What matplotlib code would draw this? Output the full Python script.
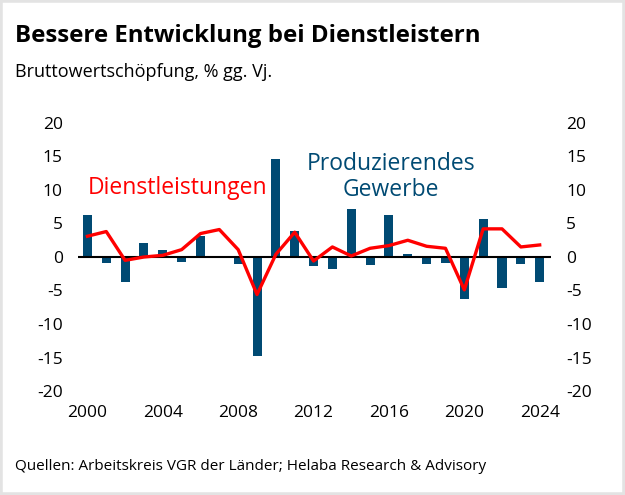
import matplotlib.pyplot as plt
from matplotlib.patches import Rectangle

plt.rcParams['font.family'] = ['Open Sans', 'DejaVu Sans']
plt.rcParams['axes.unicode_minus'] = False

years = list(range(2000, 2025))
# Produzierendes Gewerbe (bars)
produzierendes = [6.2, -0.9, -3.7, 2.1, 1.0, -0.8, 3.1, 0.2, -1.0, -14.8,
                  14.7, 3.9, -1.4, -1.8, 7.2, -1.2, 6.2, 0.5, -1.0, -0.9,
                  -6.3, 5.7, -4.7, -1.0, -3.7]
# Dienstleistungen (line)
dienstleistungen = [3.1, 3.8, -0.5, 0.0, 0.25, 1.1, 3.5, 4.1, 1.1, -5.6,
                    0.4, 3.7, -0.6, 1.5, 0.15, 1.3, 1.7, 2.5, 1.6, 1.3,
                    -4.9, 4.2, 4.2, 1.5, 1.8]
xticks = [2000, 2004, 2008, 2012, 2016, 2020, 2024]
yticks = [-20, -15, -10, -5, 0, 5, 10, 15, 20]

blue = '#004a73'
red = '#ff0000'

fig = plt.figure(figsize=(6.25, 4.95), dpi=100)
ax = fig.add_axes([78 / 625, (495 - 391) / 495, 473 / 625, 268 / 495])

ax.bar(years, produzierendes, width=0.48, color=blue, zorder=2)
ax.axhline(0, color='black', linewidth=1.5, zorder=3)
ax.plot(years, dienstleistungen, color=red, linewidth=2.4, zorder=4)

ax.set_xlim(1999.5, 2024.6)
ax.set_ylim(-20, 20)
ax.set_xticks(xticks)
ax.set_yticks(yticks)
ax.tick_params(axis='both', length=0, labelsize=12.5)
ax.tick_params(axis='y', labelright=True, pad=11)
ax.tick_params(axis='x', pad=10)
for s in ax.spines.values():
    s.set_visible(False)

ax.text(2004.8, 10.3, 'Dienstleistungen', color=red, fontsize=16.5, ha='center', va='center')
ax.text(2016.1, 11.9, 'Produzierendes\nGewerbe', color=blue, fontsize=16.5,
        ha='center', va='center', linespacing=1.1)

fig.text(15 / 625, 1 - 36 / 495, 'Bessere Entwicklung bei Dienstleistern',
         fontsize=17.3, fontweight='bold', va='center')
fig.text(15 / 625, 1 - 72 / 495, 'Bruttowertschöpfung, % gg. Vj.',
         fontsize=13, va='center')
fig.text(15 / 625, 1 - 466 / 495, 'Quellen: Arbeitskreis VGR der Länder; Helaba Research & Advisory',
         fontsize=11, va='center')

fig.patches.append(Rectangle((0, 0), 1, 1, transform=fig.transFigure, fill=False,
                             edgecolor='#e3e3e3', linewidth=4))

fig.savefig('out.png', dpi=100)
